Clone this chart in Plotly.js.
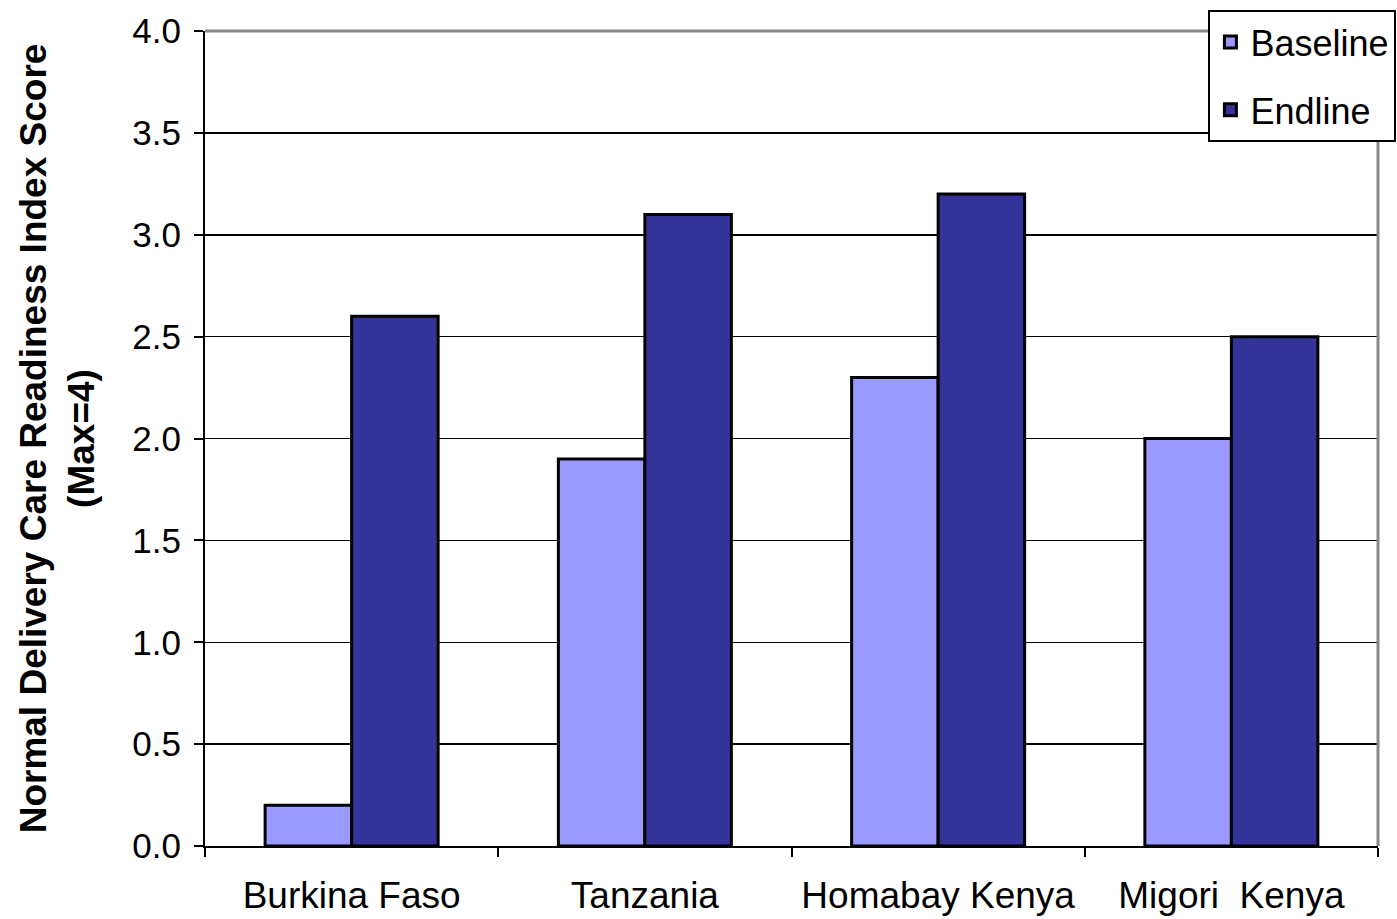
<!DOCTYPE html>
<html><head><meta charset="utf-8">
<script src="https://cdn.plot.ly/plotly-3.0.1.min.js"></script>
<style>html,body{margin:0;padding:0;background:#fff}#c{width:1397px;height:919px}</style>
</head><body><div id="c"></div>
<script>
const categories = ["Burkina Faso", "Tanzania", "Homabay Kenya", "Migori\u00a0\u00a0Kenya"];
const baseline = [0.2, 1.9, 2.3, 2.0];
const endline = [2.6, 3.1, 3.2, 2.5];
const yTicks = [0, 0.5, 1, 1.5, 2, 2.5, 3, 3.5, 4];
const yTickText = ["0.0","0.5","1.0","1.5","2.0","2.5","3.0","3.5","4.0"];
const font = "Liberation Sans, Arial, sans-serif";

const data = [
  {type:"bar", name:"Baseline", x:categories, y:baseline, legendgroup:"a",
   marker:{color:"#9999FF", line:{color:"#000", width:3}}},
  {type:"bar", name:"Endline", x:categories, y:endline, legendgroup:"b",
   marker:{color:"#333399", line:{color:"#000", width:3}}}
];
const layout = {
  width:1397, height:919,
  margin:{l:205, r:19, t:31, b:73, autoexpand:false},
  paper_bgcolor:"#fff", plot_bgcolor:"#fff",
  barmode:"group", bargap:0.41, bargroupgap:0,
  font:{family:font, color:"#000", size:34},
  xaxis:{type:"category", tickson:"boundaries", ticks:"outside", ticklen:9, tickwidth:2, tickcolor:"#000",
         showline:true, linecolor:"#000", linewidth:2, showgrid:false, zeroline:false, tickangle:0,
         tickfont:{size:37}, ticklabelstandoff:16, automargin:false},
  yaxis:{range:[0,4], tickvals:yTicks, ticktext:yTickText, ticks:"outside", ticklen:9, tickwidth:2, tickcolor:"#000",
         showline:true, linecolor:"#000", linewidth:2, showgrid:true, gridcolor:"#000", gridwidth:1.5, zeroline:false,
         tickfont:{size:35}, ticklabelstandoff:6, automargin:false,
         title:{text:"<b>Normal Delivery Care Readiness Index Score<br>(Max=4)</b>", font:{size:37}, standoff:26}},
  showlegend:true,
  legend:{xref:"container", yref:"container", x:0.865, y:0.989, xanchor:"left", yanchor:"top",
          bgcolor:"#fff", bordercolor:"#000", borderwidth:2,
          font:{size:36}, tracegroupgap:18, traceorder:"grouped"},
  shapes:[
    {type:"line", xref:"paper", yref:"paper", x0:0, x1:1, y0:1, y1:1, line:{color:"#888", width:3}},
    {type:"line", xref:"paper", yref:"paper", x0:1, x1:1, y0:0, y1:1, line:{color:"#888", width:3}}
  ]
};
Plotly.newPlot("c", data, layout, {displayModeBar:false, staticPlot:true});
</script></body></html>
